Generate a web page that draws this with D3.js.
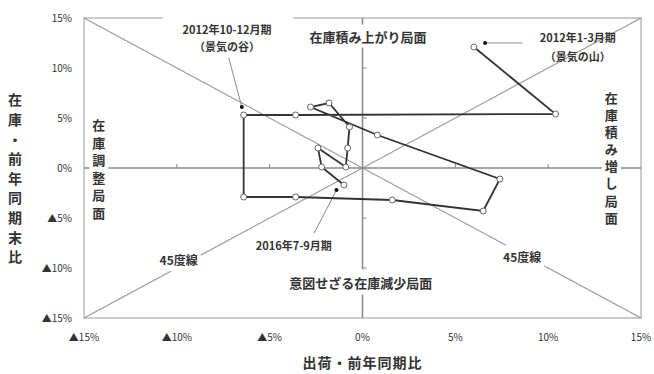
<!DOCTYPE html>
<html>
<head>
<meta charset="utf-8">
<script src="https://cdn.jsdelivr.net/npm/d3@7"></script>
<style>
  body { margin: 0; background: #fff; }
  svg text { font-family: "Noto Sans CJK JP", "Noto Sans", sans-serif; fill: #333; }
</style>
</head>
<body>
<svg id="chart" width="654" height="374"></svg>
<script>
/*=================
=== The data
=================*/
// shipments (x) and inventory (y), yoy %, from 2012 Jan-Mar on
var shipVals = [6.0, 10.4, -3.6, -6.4, -6.4, -3.6, 1.6, 6.5, 7.4, 0.8, -2.8, -1.8, -0.7, -0.8, -0.9, -2.4, -2.2, -1.0];
var stockVals = [12.1, 5.4, 5.3, 5.3, -2.9, -2.9, -3.2, -4.3, -1.1, 3.3, 6.1, 6.5, 4.1, 2.0, 0.1, 2.0, 0.1, -1.7];

var tickVals = [-15, -10, -5, 0, 5, 10, 15];
var tickLabels = ['▲15%', '▲10%', '▲5%', '0%', '5%', '10%', '15%'];

var xTitle = '出荷・前年同期比';
var yTitle = '在庫・前年同期末比';

var points = shipVals.map(function (d, i) { return { x: d, y: stockVals[i] }; });

/*=================
=== Scales
=================*/
var svg = d3.select('#chart');
var x = d3.scaleLinear().domain([-15, 15]).range([84, 641]);
var y = d3.scaleLinear().domain([-15, 15]).range([318, 18]);

// frame
svg.append('rect')
	.attr('x', x(-15)).attr('y', y(15))
	.attr('width', x(15) - x(-15)).attr('height', y(-15) - y(15))
	.attr('fill', 'none').attr('stroke', '#bbb').attr('stroke-width', 1.5);

// 45 degree lines
svg.append('line')
	.attr('x1', x(-15)).attr('y1', y(-15)).attr('x2', x(15)).attr('y2', y(15))
	.attr('stroke', '#999').attr('stroke-width', 1.2);
svg.append('line')
	.attr('x1', x(-15)).attr('y1', y(15)).attr('x2', x(15)).attr('y2', y(-15))
	.attr('stroke', '#999').attr('stroke-width', 1.2);

// zero axes with small ticks
var axisG = svg.append('g').attr('class', 'zero-axes');
axisG.append('line')
	.attr('x1', x(-15)).attr('x2', x(15)).attr('y1', y(0)).attr('y2', y(0))
	.attr('stroke', '#888').attr('stroke-width', 1.5);
axisG.append('line')
	.attr('x1', x(0)).attr('x2', x(0)).attr('y1', y(15)).attr('y2', y(-15))
	.attr('stroke', '#888').attr('stroke-width', 1.5);
var inner = tickVals.filter(function (d) { return Math.abs(d) < 15 && d !== 0; });
axisG.selectAll('.tx').data(inner)
	.enter().append('line')
	.attr('x1', function (d) { return x(d); }).attr('x2', function (d) { return x(d); })
	.attr('y1', y(0) - 4).attr('y2', y(0))
	.attr('stroke', '#888');
axisG.selectAll('.ty').data(inner)
	.enter().append('line')
	.attr('y1', function (d) { return y(d); }).attr('y2', function (d) { return y(d); })
	.attr('x1', x(0)).attr('x2', x(0) + 4)
	.attr('stroke', '#888');

// tick labels
svg.selectAll('.ylab').data(tickVals).enter().append('text')
	.attr('x', 72).attr('y', function (d) { return y(d); })
	.attr('dy', '0.35em').attr('text-anchor', 'end')
	.style('font-size', '10px')
	.text(function (d, i) { return tickLabels[i]; });
svg.selectAll('.xlab').data(tickVals).enter().append('text')
	.attr('x', function (d) { return x(d); }).attr('y', 337)
	.attr('dy', '0.35em').attr('text-anchor', 'middle')
	.style('font-size', '10px')
	.text(function (d, i) { return tickLabels[i]; });

/*=================
=== Labels with white backing (they cut the lines)
=================*/
function boxed(cx, cy, txt, size, pad) {
	var t = svg.append('text')
		.attr('x', cx).attr('y', cy).attr('dy', '0.35em')
		.attr('text-anchor', 'middle')
		.style('font-size', size + 'px').style('font-weight', 'bold')
		.text(txt);
	var b = t.node().getBBox();
	svg.insert('rect', function () { return t.node(); })
		.attr('x', b.x - pad).attr('y', b.y - pad)
		.attr('width', b.width + pad * 2).attr('height', b.height + pad * 2)
		.attr('fill', '#fff');
	return t;
}

// vertical text as a single element
function vertical(cx, top, txt, size, step, withBg) {
	var n = txt.length;
	if (withBg) {
		svg.append('rect')
			.attr('x', cx - size / 2 - 3).attr('y', top - size / 2 - 3)
			.attr('width', size + 6).attr('height', step * (n - 1) + size + 6)
			.attr('fill', '#fff');
	}
	svg.append('text')
		.attr('x', cx).attr('y', top - size / 2)
		.style('writing-mode', 'vertical-rl')
		.style('text-orientation', 'upright')
		.style('letter-spacing', (step - size) + 'px')
		.style('font-size', size + 'px').style('font-weight', 'bold')
		.text(txt);
}

boxed(x(0.3), y(13.1), '在庫積み上がり局面', 13, 2);
boxed(x(-0.1), y(-11.5), '意図せざる在庫減少局面', 13, 3);
boxed(x(-9.9), y(-9.3), '45度線', 12, 3);
boxed(x(8.6), y(-9.0), '45度線', 12, 3);
vertical(x(13.4), y(7.0), '在庫積み増し局面', 13, 17.1, true);
vertical(x(-14.2), y(4.3), '在庫調整局面', 13, 17.6, true);

// annotation for the trough
svg.append('rect').attr('x', 163).attr('y', 14).attr('width', 130).attr('height', 40).attr('fill', '#fff');
svg.append('text').attr('x', x(-7.3)).attr('y', y(13.8)).attr('dy', '0.35em').attr('text-anchor', 'middle')
	.style('font-size', '11px').style('font-weight', 'bold').text('2012年10-12月期');
svg.append('text').attr('x', x(-7.3)).attr('y', y(12.1)).attr('dy', '0.35em').attr('text-anchor', 'middle')
	.style('font-size', '11px').style('font-weight', 'bold').text('（景気の谷）');
svg.append('line').attr('x1', x(-7.2)).attr('y1', y(11.0)).attr('x2', x(-6.5)).attr('y2', y(6.1))
	.attr('stroke', '#888');
svg.append('circle').attr('cx', x(-6.5)).attr('cy', y(6.1)).attr('r', 2).attr('fill', '#111');

// annotation for the peak
svg.append('text').attr('x', x(11.6)).attr('y', y(13.0)).attr('dy', '0.35em').attr('text-anchor', 'middle')
	.style('font-size', '11px').style('font-weight', 'bold').text('2012年1-3月期');
svg.append('text').attr('x', x(11.6)).attr('y', y(11.1)).attr('dy', '0.35em').attr('text-anchor', 'middle')
	.style('font-size', '11px').style('font-weight', 'bold').text('（景気の山）');
svg.append('line').attr('x1', x(6.6)).attr('y1', y(12.5)).attr('x2', x(8.6)).attr('y2', y(12.5))
	.attr('stroke', '#888');
svg.append('circle').attr('cx', x(6.6)).attr('cy', y(12.5)).attr('r', 2).attr('fill', '#111');

// annotation for the latest quarter
svg.append('text').attr('x', x(-3.7)).attr('y', y(-7.8)).attr('dy', '0.35em').attr('text-anchor', 'middle')
	.style('font-size', '11px').style('font-weight', 'bold').text('2016年7-9月期');
svg.append('line').attr('x1', x(-2.6)).attr('y1', y(-6.5)).attr('x2', x(-1.4)).attr('y2', y(-2.2))
	.attr('stroke', '#888');
svg.append('circle').attr('cx', x(-1.4)).attr('cy', y(-2.2)).attr('r', 2).attr('fill', '#111');

/*=================
=== The cycle path
=================*/
var cycleLine = d3.line()
	.x(function (d) { return x(d.x); })
	.y(function (d) { return y(d.y); });

svg.append('path')
	.datum(points)
	.attr('d', cycleLine)
	.attr('fill', 'none').attr('stroke', '#333').attr('stroke-width', 1.8);

svg.selectAll('.pt').data(points).enter().append('circle')
	.attr('cx', function (d) { return x(d.x); })
	.attr('cy', function (d) { return y(d.y); })
	.attr('r', 3)
	.attr('fill', '#fff').attr('stroke', '#666').attr('stroke-width', 1);

// axis titles
svg.append('text').attr('x', x(0)).attr('y', 363).attr('dy', '0.35em').attr('text-anchor', 'middle')
	.style('font-size', '14px').style('font-weight', 'bold').style('letter-spacing', '1px').text(xTitle);
vertical(15, 100, yTitle, 14, 19.6, false);
</script>
</body>
</html>
